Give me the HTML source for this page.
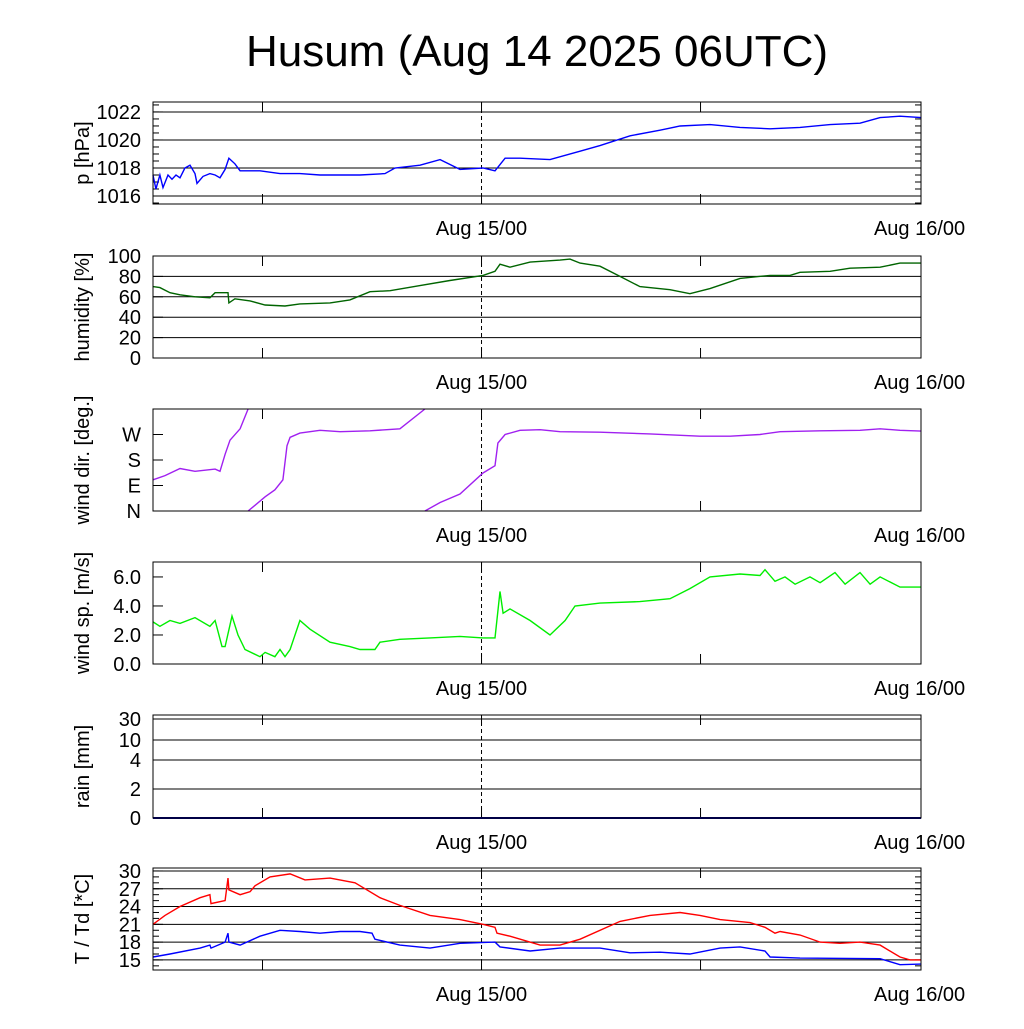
<!DOCTYPE html>
<html><head><meta charset="utf-8"><style>
body{margin:0;background:#fff}
svg text{font-family:"Liberation Sans",sans-serif;fill:#000}
</style></head><body>
<svg id="c" width="1024" height="1024" xmlns="http://www.w3.org/2000/svg">
<text x="537" y="66" font-size="44" text-anchor="middle">Husum (Aug 14 2025 06UTC)</text>
</svg>
<script>
// time in hours since Aug 14 06UTC
const pT=[0,.16,.38,.55,.82,1.04,1.26,1.48,1.75,2.03,2.3,2.41,2.74,3.12,3.4,3.67,3.95,4.16,4.49,4.77,5.86,6.96,8.05,9.15,10.25,11.34,12.71,13.26,14.63,15.73,16.82,18.08,18.74,19.29,20.11,21.75,23.4,24.49,26.14,27.78,28.88,30.52,32.16,33.81,35.45,37.1,38.74,39.84,40.93,42.08];
const pV=[1017.5,1016.5,1017.5,1016.6,1017.5,1017.2,1017.5,1017.3,1018.0,1018.2,1017.6,1016.9,1017.4,1017.6,1017.5,1017.3,1017.9,1018.7,1018.3,1017.8,1017.8,1017.6,1017.6,1017.5,1017.5,1017.5,1017.6,1018,1018.2,1018.6,1017.9,1018,1017.8,1018.7,1018.7,1018.6,1019.2,1019.6,1020.3,1020.7,1021.0,1021.1,1020.9,1020.8,1020.9,1021.1,1021.2,1021.6,1021.7,1021.6];
const hT=[0,.38,.93,1.48,2.3,3.12,3.4,4.11,4.16,4.49,5.32,6.14,7.23,8.05,9.7,10.79,11.89,12.99,14.63,16.27,18.08,18.74,19.01,19.56,20.66,22.3,22.85,23.4,24.49,25.59,26.68,28.33,29.42,30.52,32.16,33.81,34.9,35.45,37.1,38.19,39.84,40.93,42.08];
const hV=[70,69,64,62,60,59,64,64,54,58,56,52,51,53,54,57,65,66,71,76,81,85,92,89,94,96,97,93,90,80,70,67,63,68,78,81,81,84,85,88,89,93,93];
const dT=[0,.66,1.48,2.3,3.4,3.67,3.95,4.22,4.77,5.21,5.21,5.21,5.59,6.14,6.68,7.12,7.34,7.51,8.05,9.15,10.25,11.89,13.53,14.9,14.9,14.9,15.73,16.82,18.08,18.74,18.9,19.29,20.11,21.21,22.3,24.49,27.23,29.97,31.62,33.26,34.36,36.55,38.74,39.84,40.93,42.08];
const dV=[110,125,150,140,148,140,200,250,290,360,NaN,0,20,50,75,110,230,260,275,285,280,283,290,360,NaN,0,30,60,134,160,240,270,285,287,280,278,272,264,264,270,280,283,285,290,285,282];
const wT=[0,.38,.93,1.48,2.3,3.12,3.4,3.78,3.95,4.33,4.66,5.04,5.86,6.14,6.68,6.96,7.23,7.51,8.05,8.6,9.7,10.79,11.34,12.16,12.44,13.53,15.18,16.82,18.08,18.74,19.01,19.18,19.56,20.66,21.75,22.58,23.12,24.49,26.68,28.33,29.42,30.52,32.16,33.26,33.53,34.08,34.63,35.18,36,36.55,37.37,37.92,38.74,39.29,39.84,40.93,42.08];
const wV=[2.9,2.6,3.0,2.8,3.2,2.6,3.0,1.2,1.2,3.3,2.0,1.0,0.5,0.8,0.5,1.0,0.5,1.0,3.0,2.4,1.5,1.2,1.0,1.0,1.5,1.7,1.8,1.9,1.8,1.8,5.0,3.5,3.8,3.0,2.0,3.0,4.0,4.2,4.3,4.5,5.2,6.0,6.2,6.1,6.5,5.7,6.0,5.5,6.0,5.6,6.3,5.5,6.3,5.5,6.0,5.3,5.3];
const rT=[0,42.08];
const rV=[0,0];
const tT=[0,.66,1.48,2.58,3.12,3.18,3.95,4.11,4.16,4.77,5.32,5.59,6.41,7.51,8.33,9.7,11.07,11.62,12.44,13.53,15.18,16.82,18.08,18.74,18.85,19.56,21.21,22.3,23.4,25.59,27.23,28.88,29.97,31.07,32.71,33.53,34.08,34.36,35.45,36.55,37.64,38.74,39.84,40.93,41.48,42.08];
const tV=[21,22.5,24,25.5,26,24.5,25,28.8,26.8,26,26.5,27.5,29,29.5,28.5,28.8,28,27,25.5,24.2,22.5,21.8,21,20.5,19.5,19,17.5,17.5,18.5,21.5,22.5,23,22.5,21.8,21.3,20.5,19.5,19.8,19.2,18,17.8,18,17.5,15.5,15,15];
const tdT=[0,.93,2.58,3.12,3.18,3.95,4.11,4.16,4.77,5.86,6.96,8.05,9.15,10.25,11.34,12,12.16,13.53,15.18,16.82,18.74,19.01,20.66,22.3,24.49,26.14,27.78,29.42,31.07,32.16,33.53,33.81,35.45,39.84,40.93,42.08];
const tdV=[15.5,16,17,17.5,17,18,19.5,18,17.5,19,20,19.8,19.5,19.8,19.8,19.5,18.5,17.5,17,17.8,18,17.2,16.5,17,17,16.2,16.3,16,17,17.2,16.5,15.5,15.3,15.2,14.2,14.3];
const xLabels=["Aug 15/00","Aug 16/00"];
const xLabelHours=[18,42];
const xTickHours=[6,18,30];

const svg=document.getElementById('c');
const NS='http://www.w3.org/2000/svg';
const X0=153,X1=921,HMAX=42.08;
function xs(h){return X0+(X1-X0)*h/HMAX;}
function mk(tag,attrs){const e=document.createElementNS(NS,tag);for(const k in attrs)e.setAttribute(k,attrs[k]);svg.appendChild(e);return e;}

const panels=[
 {name:'pressure',top:102,bot:204,min:1015.43,max:1022.71,title:'p [hPa]',ticks:[1016,1018,1020,1022],labels:['1016','1018','1020','1022'],minor:0.5,series:[[pT,pV,'#0000ff']]},
 {name:'humidity',top:256,bot:358,min:0,max:100,title:'humidity [%]',ticks:[0,20,40,60,80,100],labels:['0','20','40','60','80','100'],series:[[hT,hV,'#006400']]},
 {name:'wind-direction',top:409,bot:511,min:0,max:360,title:'wind dir. [deg.]',ticks:[0,90,180,270],labels:['N','E','S','W'],grid:false,series:[[dT,dV,'#a020f0']]},
 {name:'wind-speed',top:562,bot:664,min:0,max:7.03,title:'wind sp. [m/s]',ticks:[0,2,4,6],labels:['0.0','2.0','4.0','6.0'],grid:false,series:[[wT,wV,'#00ee00']]},
 {name:'rain',top:715,bot:818,min:0,max:103,title:'rain [mm]',ticks:[0,29,58,78,99],labels:['0','2','4','10','30'],series:[[rT,rV,'#00008b']]},
 {name:'temperature',top:868,bot:970,min:13.3,max:30.5,title:'T / Td [*C]',ticks:[15,18,21,24,27,30],labels:['15','18','21','24','27','30'],minor:1,series:[[tT,tV,'#ff0000'],[tdT,tdV,'#0000ff']]}
];
panels.forEach(p=>{
 const ys=v=>p.bot-(p.bot-p.top)*(v-p.min)/(p.max-p.min);
 const g=mk('g',{});
 
 
 if(p.grid!==false){
  p.ticks.forEach(t=>{const y=ys(t);if(y>p.top+1&&y<p.bot-1){const l=mk('line',{x1:X0,x2:X1,y1:y,y2:y,stroke:'#000','stroke-width':1});
   
   }});
 }
 if(p.minor){for(let v=Math.ceil(p.min/p.minor)*p.minor;v<=p.max;v+=p.minor){const y=ys(v);mk('line',{x1:X0,x2:X0+6,y1:y,y2:y,stroke:'#000','stroke-width':1});mk('line',{x1:X1-6,x2:X1,y1:y,y2:y,stroke:'#000','stroke-width':1});}}
 p.ticks.forEach((t,i)=>{const y=ys(t);mk('line',{x1:X0,x2:X0+10,y1:y,y2:y,stroke:'#000'});
  const tx=mk('text',{x:X0-12,y:y+7,'font-size':20,'text-anchor':'end'});tx.textContent=p.labels[i];
  
  });
 xTickHours.forEach(h=>{mk('line',{x1:xs(h),x2:xs(h),y1:p.bot,y2:p.bot-10,stroke:'#000'});mk('line',{x1:xs(h),x2:xs(h),y1:p.top,y2:p.top+10,stroke:'#000'});});
 const dl=mk('line',{x1:xs(18),x2:xs(18),y1:p.top,y2:p.bot,stroke:'#000','stroke-dasharray':'4,3'});
 
 
 p.series.forEach(([T,V,col],si)=>{
  let d='',pen=false;
  for(let i=0;i<Math.min(T.length,V.length);i++){
   if(isNaN(V[i])){pen=false;continue;}
   let y=Math.max(p.top,Math.min(p.bot,ys(V[i])));
   d+=(pen?'L':'M')+xs(T[i]).toFixed(1)+','+y.toFixed(1);pen=true;}
  const path=mk('path',{d:d,fill:'none',stroke:col,'stroke-width':p.name==='rain'?2:1.4});
  
  
 });
 const fr=mk('rect',{x:X0,y:p.top,width:X1-X0,height:p.bot-p.top,fill:'none',stroke:'#000','stroke-width':1});
 
 
 xLabels.forEach((lab,i)=>{const t=mk('text',{x:xs(xLabelHours[i]),y:p.bot+31,'font-size':20,'text-anchor':'middle'});t.textContent=lab;
  
  });
 const cy=(p.top+p.bot)/2;
 const at=mk('text',{x:0,y:0,'font-size':20,'text-anchor':'middle',transform:'translate(89,'+cy+') rotate(-90)'});
 at.textContent=p.title;
 
 
});
</script>
</body></html>
